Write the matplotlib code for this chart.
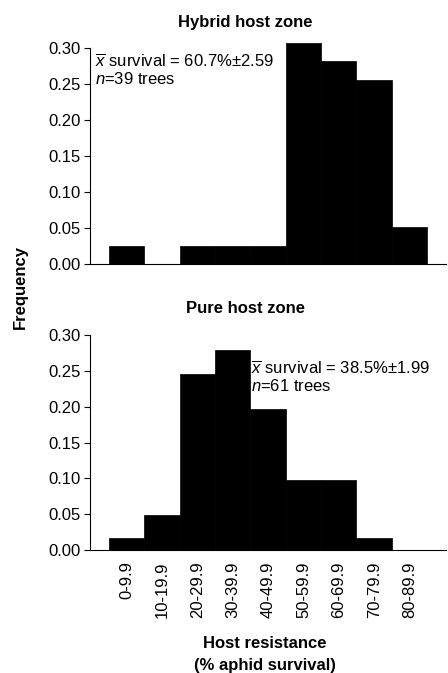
import numpy as np
import matplotlib
matplotlib.use('Agg')
import matplotlib.pyplot as plt

plt.rcParams['font.family'] = ['Liberation Sans', 'DejaVu Sans']
plt.rcParams['mathtext.fontset'] = 'custom'
plt.rcParams['mathtext.rm'] = 'Liberation Sans'
plt.rcParams['mathtext.it'] = 'Liberation Sans:italic'

# Data: frequency of trees per resistance class
bins = ['0-9.9', '10-19.9', '20-29.9', '30-39.9', '40-49.9',
        '50-59.9', '60-69.9', '70-79.9', '80-89.9']
hybrid_counts = [1, 0, 1, 1, 1, 12, 11, 10, 2]   # n = 39
pure_counts = [1, 3, 15, 17, 12, 6, 6, 1, 0]     # n = 61
hybrid_freq = np.array(hybrid_counts) / sum(hybrid_counts)
pure_freq = np.array(pure_counts) / sum(pure_counts)

yticks = [0.00, 0.05, 0.10, 0.15, 0.20, 0.25, 0.30]

fig = plt.figure(figsize=(4.48, 6.73), dpi=100)
ax_top = fig.add_axes([0.201, 0.6077, 0.795, 0.3314])
ax_bot = fig.add_axes([0.201, 0.1828, 0.795, 0.330])

x = np.arange(len(bins))
FS = 12

for ax, freq in ((ax_top, hybrid_freq), (ax_bot, pure_freq)):
    ax.bar(x, freq, width=1.0, color='black', edgecolor='black', linewidth=0.5)
    ax.set_xlim(-1.04, 9.04)
    ax.set_ylim(0, 0.31)
    ax.spines['top'].set_visible(False)
    ax.spines['right'].set_visible(False)
    ax.spines['left'].set_bounds(0, 0.30)
    ax.set_yticks(yticks)
    ax.set_yticklabels([f'{t:.2f}' for t in yticks], fontsize=FS)
    ax.tick_params(axis='y', direction='out', length=4, width=0.8, pad=3)
    ax.tick_params(axis='x', length=0)

ax_top.set_xticks([])
ax_bot.set_xticks(x)
ax_bot.set_xticklabels(bins, rotation=90, fontsize=FS, va='top')
ax_bot.tick_params(axis='x', pad=8)

fig.text(0.547, 0.967, 'Hybrid host zone', ha='center', va='center',
         fontsize=FS, fontweight='bold')
fig.text(0.547, 0.542, 'Pure host zone', ha='center', va='center',
         fontsize=FS, fontweight='bold')

ax_top.text(0.013, 0.945, r'$\overline{x}$ survival = 60.7%±2.59' + '\n' + r'$n$=39 trees',
            transform=ax_top.transAxes, ha='left', va='top', fontsize=FS,
            linespacing=1.05)
ax_bot.text(0.452, 0.855, r'$\overline{x}$ survival = 38.5%±1.99' + '\n' + r'$n$=61 trees',
            transform=ax_bot.transAxes, ha='left', va='top', fontsize=FS,
            linespacing=1.05)

fig.text(0.045, 0.573, 'Frequency', rotation=90, ha='center', va='center',
         fontsize=FS, fontweight='bold')
fig.text(0.592, 0.027, 'Host resistance\n(% aphid survival)', ha='center',
         va='center', fontsize=FS, fontweight='bold', linespacing=1.6)

fig.savefig('out.png', dpi=100)
